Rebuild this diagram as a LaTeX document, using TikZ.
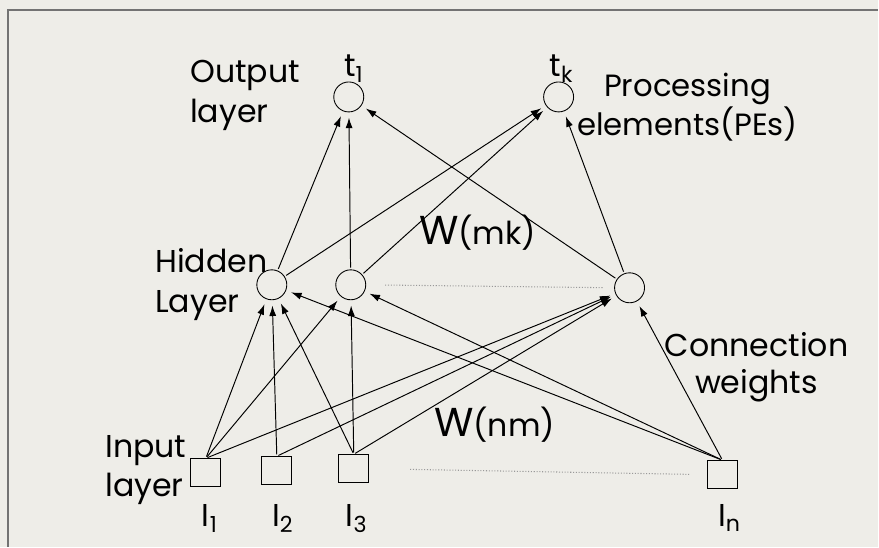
\documentclass[tikz,border=0pt]{standalone}
\usepackage{fontspec}
\setmainfont{Poppins}
\usetikzlibrary{arrows.meta}
\definecolor{paper}{RGB}{238,237,232}

\begin{document}
\begin{tikzpicture}[x=0.02cm, y=-0.02cm,
		neuron/.style={draw, circle, line width=0.5pt, minimum size=0.6cm, inner sep=0pt},
		inbox/.style={draw, rectangle, line width=0.5pt, minimum width=0.6cm, minimum height=0.56cm, inner sep=0pt},
		wire/.style={line width=0.55pt, -{Latex[length=6pt,width=4pt]}, shorten >=3pt, shorten <=1pt},
		gap/.style={densely dotted, line width=0.6pt, black!40},
		txt/.style={font=\fontsize{18}{22.7}\selectfont, inner sep=0pt}]
	%%%%% START %%%%%
	
	\fill[paper] (0, 0) rectangle (879, 547);
	\draw[line width=0.7pt, black!55] (8, 547) -- (8, 10) -- (879, 10);
	
	% output layer
	\node[neuron] (t1) at (349, 97) {};
	\node[neuron] (tk) at (559, 97) {};
	\node[txt, anchor=base] (lt1) at (354, 77) {t\textsubscript{1}};
	\node[txt, anchor=base] (ltk) at (562, 77) {t\textsubscript{k}};
	
	% hidden layer
	\node[neuron] (h1) at (272, 285) {};
	\node[neuron] (h2) at (351, 285) {};
	\node[neuron] (hm) at (630, 288) {};
	\draw[gap, shorten <=0.38cm, shorten >=0.2cm] (h2.east) -- (hm.west);
	
	% input layer
	\node[inbox] (i1) at (206, 473) {};
	\node[inbox] (i2) at (277, 471) {};
	\node[inbox] (i3) at (354, 469) {};
	\node[inbox] (iN) at (723, 475) {};
	\draw[gap, shorten <=0.82cm, shorten >=0.36cm] (i3.east) -- (iN.west);
	\node[txt, anchor=base] (li1) at (210, 527) {I\textsubscript{1}};
	\node[txt, anchor=base] (li2) at (283, 527) {I\textsubscript{2}};
	\node[txt, anchor=base] (li3) at (357, 527) {I\textsubscript{3}};
	\node[txt, anchor=base] (liN) at (730, 527) {I\textsubscript{n}};
	
	% layer names
	\node[txt, align=left, anchor=north west] (lout) at (190, 60) {Output\\layer};
	\node[txt, align=left, anchor=north west] (lhid) at (155, 248) {Hidden\\Layer};
	\node[txt, align=left, anchor=north west] (linp) at (105, 435) {Input\\layer};
	\node[txt, align=center, anchor=north, font=\fontsize{17.5}{18.8}\selectfont] (lpe) at (688, 73) {Processing\\elements(PEs)};
	\node[txt, align=center, anchor=north, font=\fontsize{18}{21}\selectfont] (lcw) at (757, 332) {Connection\\weights};
	
	% weights
	\node[txt, anchor=base] (wmk) at (478, 245) {{\fontsize{23}{23}\selectfont W}(mk)};
	\node[txt, anchor=base] (wnm) at (495, 437) {{\fontsize{23}{23}\selectfont W}(nm)};
	
	% input -> hidden
	\draw[wire] (i1.north) -- (h1);
	\draw[wire] (i1.north) -- (h2);
	\draw[wire] (i1.north) -- (hm);
	\draw[wire] (i2.north) -- (h1);
	\draw[wire] (i2.north) -- (hm);
	\draw[wire] (i3.north) -- (h1);
	\draw[wire] (i3.north) -- (h2);
	\draw[wire] (i3.north) -- (hm);
	\draw[wire] (iN.north) -- (h1);
	\draw[wire] (iN.north) -- (h2);
	\draw[wire] (iN.north) -- (hm);
	
	% hidden -> output
	\draw[wire] (h1) -- (t1);
	\draw[wire] (h1) -- (tk);
	\draw[wire] (h2) -- (t1);
	\draw[wire] (h2) -- (tk);
	\draw[wire] (hm) -- (t1);
	\draw[wire] (hm) -- (tk);
	
	%%%%% END %%%%%
\end{tikzpicture}
\end{document}
